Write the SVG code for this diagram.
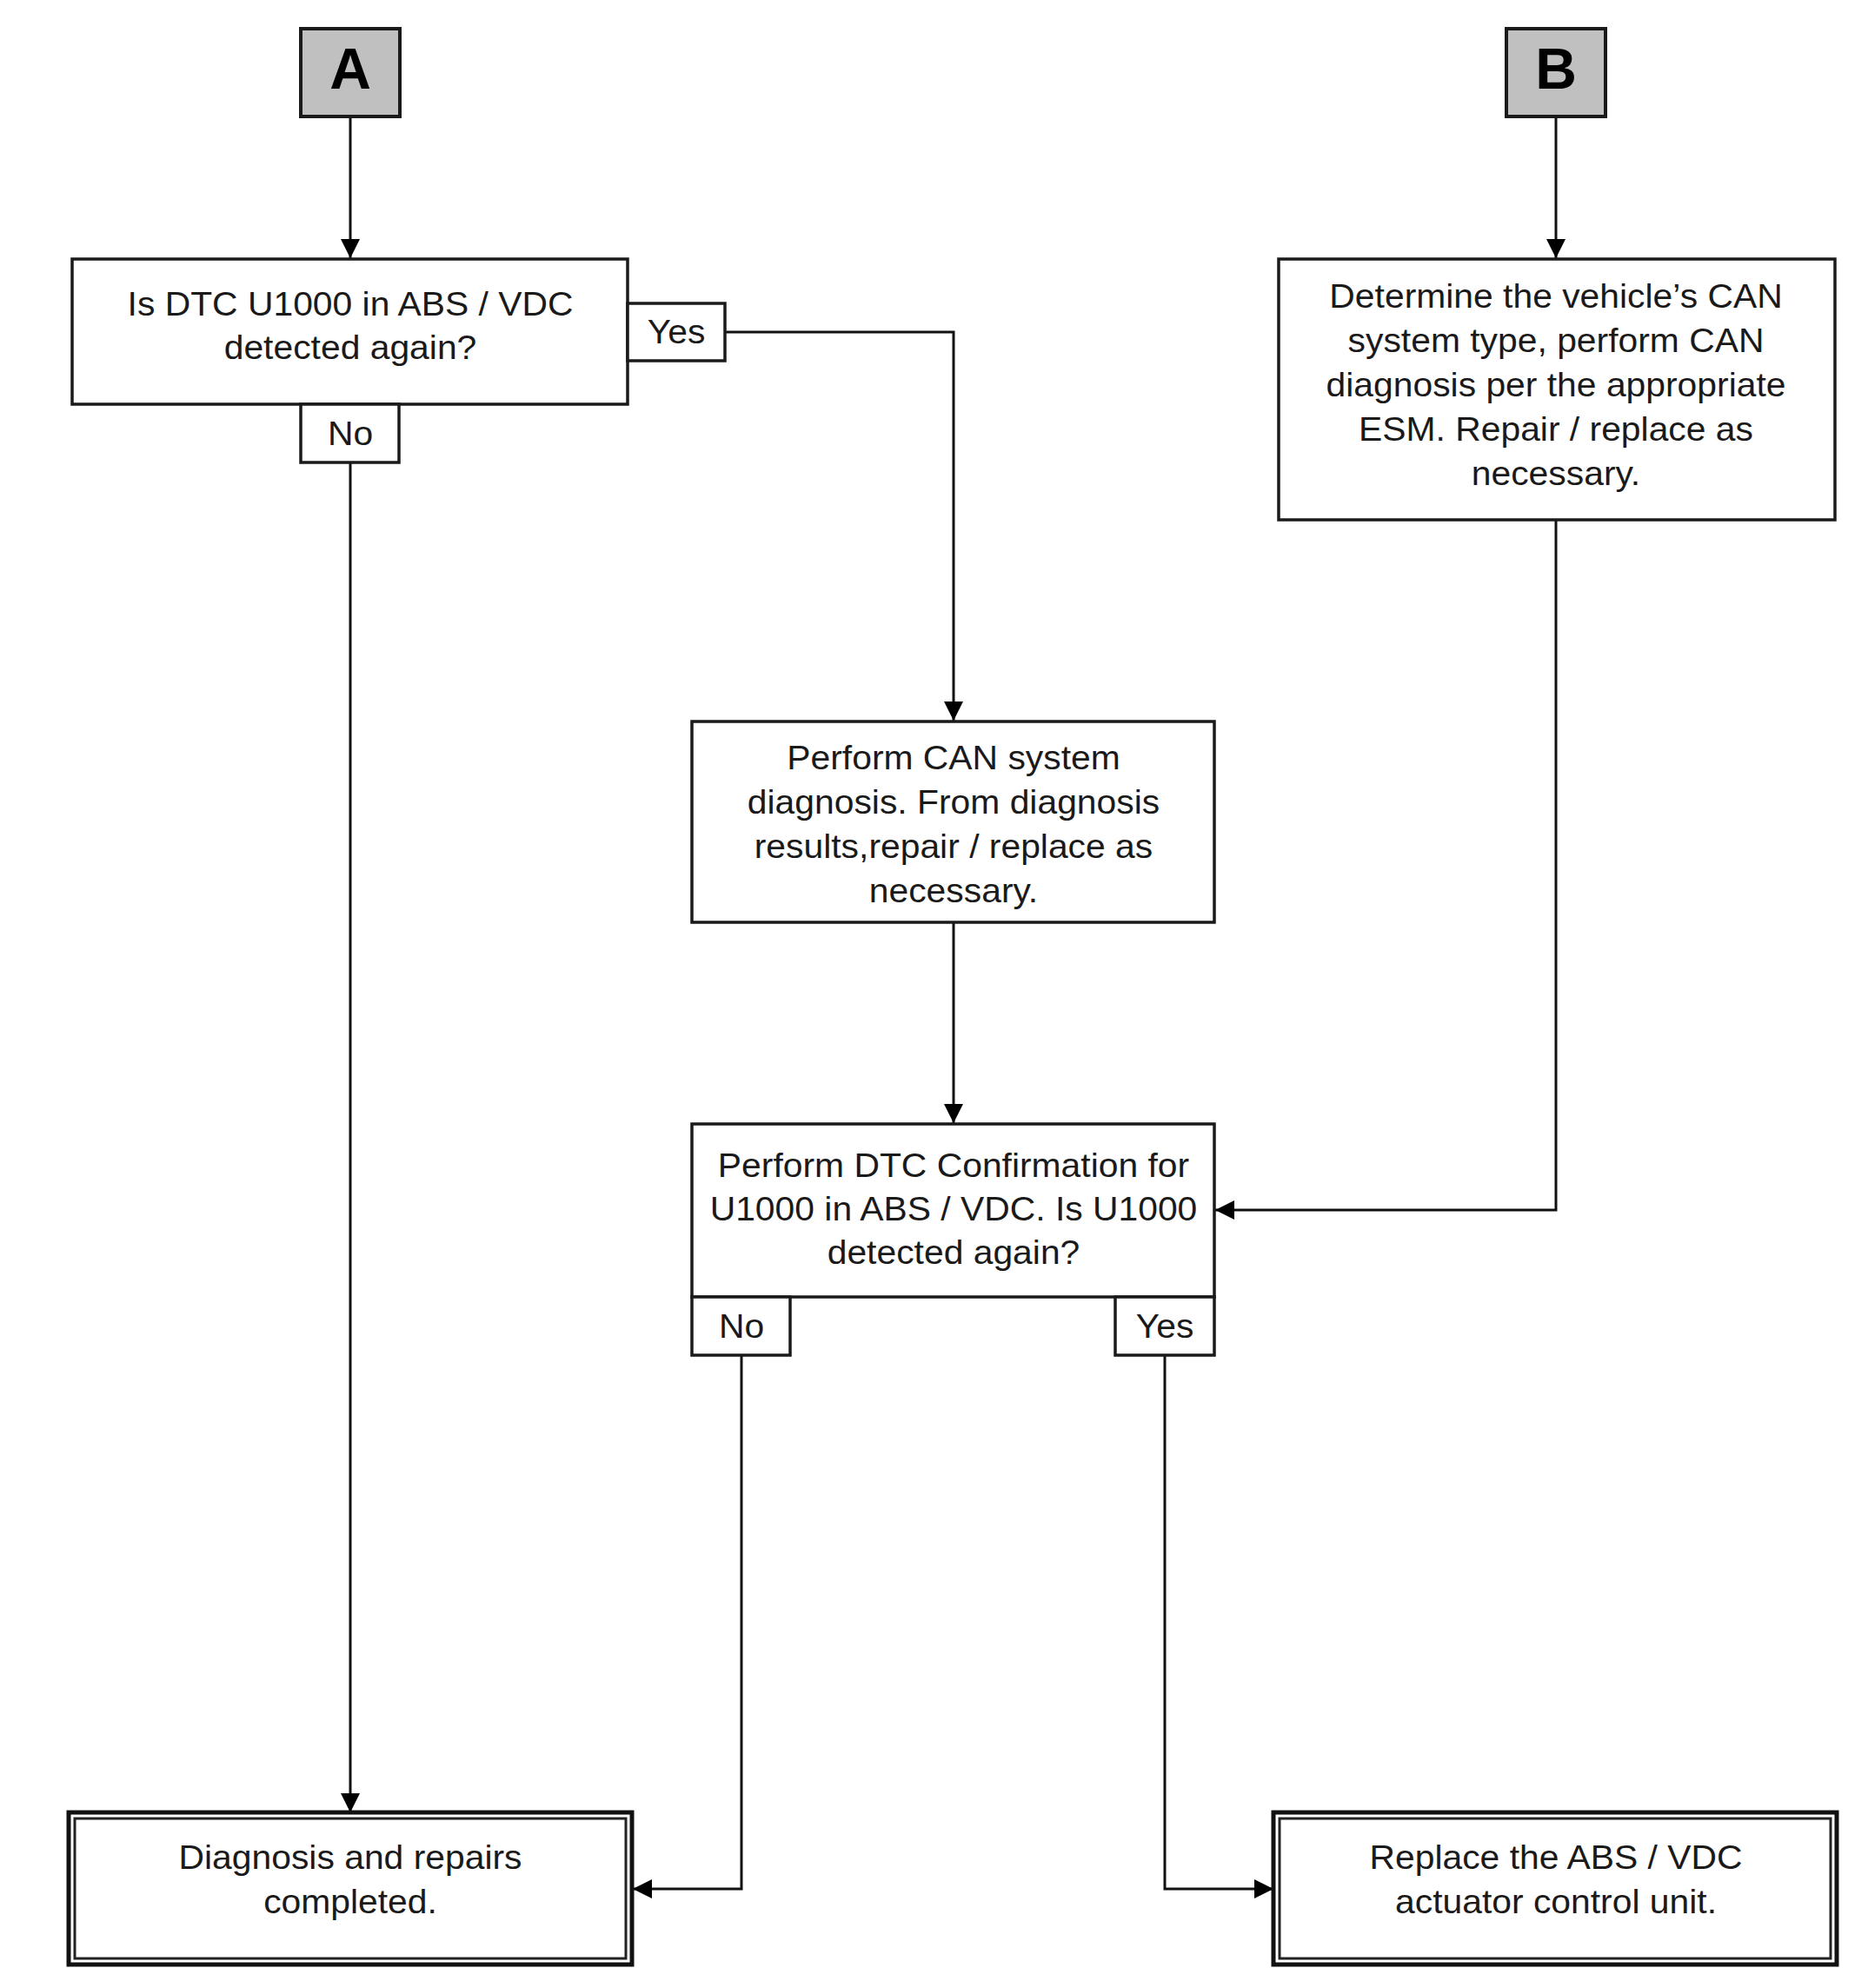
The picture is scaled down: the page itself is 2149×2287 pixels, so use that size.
<svg xmlns="http://www.w3.org/2000/svg" width="2149" height="2287" viewBox="0 0 2149 2287">
<defs>
<marker id="arr" markerWidth="24" markerHeight="24" refX="22" refY="11" orient="auto" markerUnits="userSpaceOnUse">
<path d="M0,0 L22,11 L0,22 Z" fill="#000"/>
</marker>
<style>
.bx{fill:#fff;stroke:#1a1a1a;stroke-width:3.5}
.gr{fill:#c0c0c0;stroke:#1a1a1a;stroke-width:4}
.ob{fill:#fff;stroke:#111;stroke-width:5}
.ib{fill:none;stroke:#222;stroke-width:3}
.t{font-family:"Liberation Sans",Arial,sans-serif;font-size:38px;fill:#1a1a1a;text-anchor:middle}
.big{font-family:"Liberation Sans",Arial,sans-serif;font-size:66px;font-weight:bold;fill:#000;text-anchor:middle}
.ln{fill:none;stroke:#111;stroke-width:3}
</style>
</defs>
<rect width="2149" height="2287" fill="#fff"/>
<g id="connectors">
<path class="ln" d="M403,134 V297" marker-end="url(#arr)"/>
<path class="ln" d="M834,382 H1097 V829" marker-end="url(#arr)"/>
<path class="ln" d="M403,532 V2085" marker-end="url(#arr)"/>
<path class="ln" d="M1790,134 V297" marker-end="url(#arr)"/>
<path class="ln" d="M1790,598 V1392 H1398" marker-end="url(#arr)"/>
<path class="ln" d="M1097,1061 V1292" marker-end="url(#arr)"/>
<path class="ln" d="M853,1560 V2173 H728" marker-end="url(#arr)"/>
<path class="ln" d="M1340,1560 V2173 H1465" marker-end="url(#arr)"/>
</g>
<g id="nodeA">
<rect class="gr" x="346" y="33" width="114" height="101"/>
<text class="big" x="403" y="102">A</text>
</g>
<g id="nodeB">
<rect class="gr" x="1733" y="33" width="114" height="101"/>
<text class="big" x="1790" y="102">B</text>
</g>
<g id="decision1">
<rect class="bx" x="83" y="298" width="639" height="167"/>
<g transform="translate(403,0) scale(1.075,1)">
<text class="t" x="0" y="363">Is DTC U1000 in ABS / VDC</text>
<text class="t" x="0" y="413">detected again?</text>
</g>
<rect class="bx" x="722" y="349" width="112" height="66"/>
<g transform="translate(778,0) scale(1.075,1)"><text class="t" x="0" y="395">Yes</text></g>
<rect class="bx" x="346" y="465" width="113" height="67"/>
<g transform="translate(403,0) scale(1.075,1)"><text class="t" x="0" y="512">No</text></g>
</g>
<g id="stepB">
<rect class="bx" x="1471" y="298" width="640" height="300"/>
<g transform="translate(1790,0) scale(1.075,1)">
<text class="t" x="0" y="354">Determine the vehicle’s CAN</text>
<text class="t" x="0" y="405">system type, perform CAN</text>
<text class="t" x="0" y="456">diagnosis per the appropriate</text>
<text class="t" x="0" y="507">ESM. Repair / replace as</text>
<text class="t" x="0" y="558">necessary.</text>
</g>
</g>
<g id="canDiag">
<rect class="bx" x="796" y="830" width="601" height="231"/>
<g transform="translate(1097,0) scale(1.075,1)">
<text class="t" x="0" y="885">Perform CAN system</text>
<text class="t" x="0" y="936">diagnosis. From diagnosis</text>
<text class="t" x="0" y="987">results,repair / replace as</text>
<text class="t" x="0" y="1038">necessary.</text>
</g>
</g>
<g id="decision2">
<rect class="bx" x="796" y="1293" width="601" height="199"/>
<g transform="translate(1097,0) scale(1.075,1)">
<text class="t" x="0" y="1354">Perform DTC Confirmation for</text>
<text class="t" x="0" y="1404">U1000 in ABS / VDC. Is U1000</text>
<text class="t" x="0" y="1454">detected again?</text>
</g>
<rect class="bx" x="796" y="1492" width="113" height="67"/>
<g transform="translate(853,0) scale(1.075,1)"><text class="t" x="0" y="1539">No</text></g>
<rect class="bx" x="1283" y="1492" width="114" height="67"/>
<g transform="translate(1340,0) scale(1.075,1)"><text class="t" x="0" y="1539">Yes</text></g>
</g>
<g id="done">
<rect class="ob" x="79" y="2085" width="648" height="175"/>
<rect class="ib" x="86" y="2092" width="634" height="161"/>
<g transform="translate(403,0) scale(1.075,1)">
<text class="t" x="0" y="2150">Diagnosis and repairs</text>
<text class="t" x="0" y="2201">completed.</text>
</g>
</g>
<g id="replace">
<rect class="ob" x="1465" y="2085" width="648" height="175"/>
<rect class="ib" x="1472" y="2092" width="634" height="161"/>
<g transform="translate(1790,0) scale(1.075,1)">
<text class="t" x="0" y="2150">Replace the ABS / VDC</text>
<text class="t" x="0" y="2201">actuator control unit.</text>
</g>
</g>
</svg>
